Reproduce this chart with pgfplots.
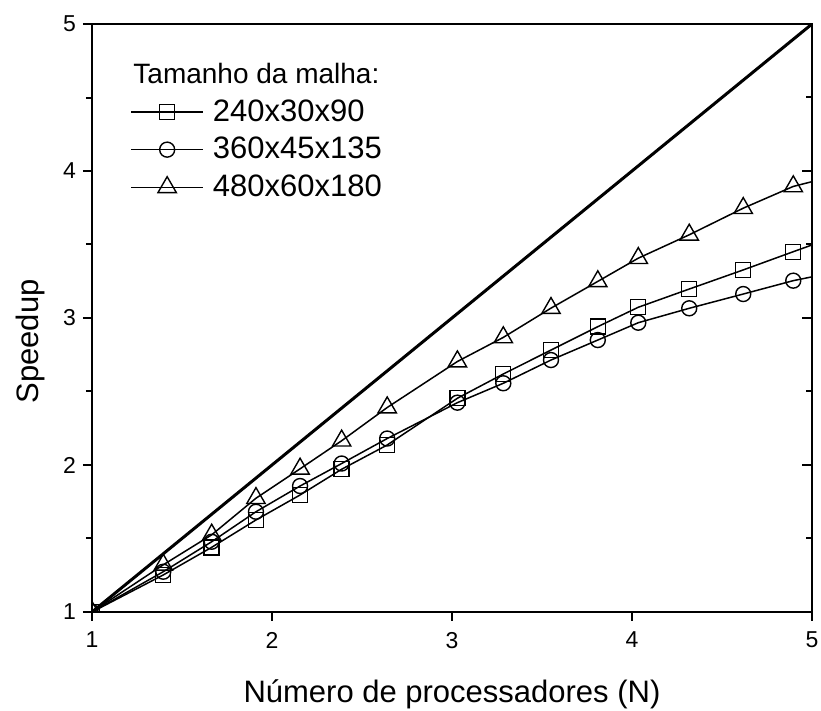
\documentclass[border=0pt]{standalone}
\usepackage{fontspec}
\setmainfont{Liberation Sans}
\usepackage{pgfplots}
\pgfplotsset{compat=1.18}
\begin{document}
\begin{tikzpicture}
\useasboundingbox (-46pt,-49.5pt) rectangle (364.5pt,306pt);
\begin{axis}[
  at={(0,0)}, anchor=south west,
  scale only axis, width=360pt, height=294pt,
  xmin=1, xmax=5, ymin=1, ymax=5,
  xtick={1,2,3,4,5}, ytick={1,2,3,4,5},
  minor ytick={1.5,2.5,3.5,4.5},
  xtick pos=bottom, ytick pos=left,
  tick align=outside,
  major tick length=4.5pt, minor tick length=3pt,
  axis line style={line width=1.2pt},
  every tick/.style={black, line width=1pt},
  tick label style={font=\fontsize{11.5}{13}\selectfont},
  xticklabel style={yshift=-2pt},
  /pgf/number format/assume math mode=true,
  xlabel={Número de processadores (N)},
  ylabel={Speedup},
  label style={font=\fontsize{15.5}{19}\selectfont},
  xlabel style={at={(axis description cs:0.5,-0.154)}, anchor=base},
  ylabel style={at={(axis description cs:-0.086,0.46)}, anchor=center},
  clip marker paths=true,
  legend style={at={(axis description cs:0.0528,0.872)}, anchor=north west,
    draw=none, fill=none, inner sep=0pt, font=\fontsize{15.5}{17}\selectfont,
    row sep=6.5pt, nodes={inner sep=0pt}},
  legend cell align=left,
  legend image code/.code={\draw[mark repeat=2,mark phase=2] plot coordinates {(0pt,0pt)(18pt,0pt)(36pt,0pt)};},
]
\addplot[black, line width=1.5pt, forget plot] coordinates {(1,1)(5,5)};
\addplot[black, line width=0.75pt, mark=square, mark size=3.75pt, mark options={solid, fill=white, line width=0.7pt}] coordinates {
(1,1)(1.396,1.252)(1.665,1.44)(1.911,1.626)(2.156,1.796)(2.387,1.971)(2.64,2.136)
(3.03,2.454)(3.285,2.619)(3.55,2.782)(3.81,2.941)(4.035,3.073)(4.318,3.197)
(4.618,3.327)(4.896,3.451)(5.2,3.585)};
\addlegendentry{\hspace{4.5pt}240x30x90}
\addplot[black, line width=0.75pt, mark=o, mark size=3.75pt, mark options={solid, fill=white, line width=0.7pt}] coordinates {
(1,1)(1.396,1.274)(1.665,1.478)(1.911,1.682)(2.156,1.857)(2.387,2.01)(2.64,2.18)
(3.03,2.424)(3.285,2.556)(3.55,2.714)(3.81,2.85)(4.035,2.968)(4.318,3.066)
(4.618,3.163)(4.896,3.254)(5.2,3.33)};
\addlegendentry{\hspace{4.5pt}360x45x135}
\addplot[black, line width=0.75pt, mark=triangle, mark size=5.3pt, mark options={solid, fill=white, line width=0.7pt}] coordinates {
(1,1)(1.396,1.321)(1.665,1.525)(1.911,1.774)(2.156,1.974)(2.387,2.165)(2.64,2.391)
(3.03,2.704)(3.285,2.868)(3.55,3.067)(3.81,3.249)(4.035,3.407)(4.318,3.566)
(4.618,3.747)(4.896,3.895)(5.2,3.99)};
\addlegendentry{\hspace{4.5pt}480x60x180}
\node[anchor=base west, font=\fontsize{14}{16}\selectfont, inner sep=0pt] at (axis description cs:0.057,0.898) {Tamanho da malha:};
\end{axis}
\begin{axis}[
  at={(0,0)}, anchor=south west,
  scale only axis, width=360pt, height=294pt,
  xmin=1, xmax=5, ymin=1, ymax=5,
  axis x line=none, axis y line*=right,
  ytick={1,2,3,4,5}, minor ytick={1.5,2.5,3.5,4.5},
  yticklabels={}, tick align=inside,
  major tick length=5pt, minor tick length=3pt,
  axis line style={line width=1.2pt},
  every tick/.style={black, line width=1pt},
]
\addplot[draw=none, forget plot] coordinates {(1,1)};
\end{axis}
\end{tikzpicture}
\end{document}
